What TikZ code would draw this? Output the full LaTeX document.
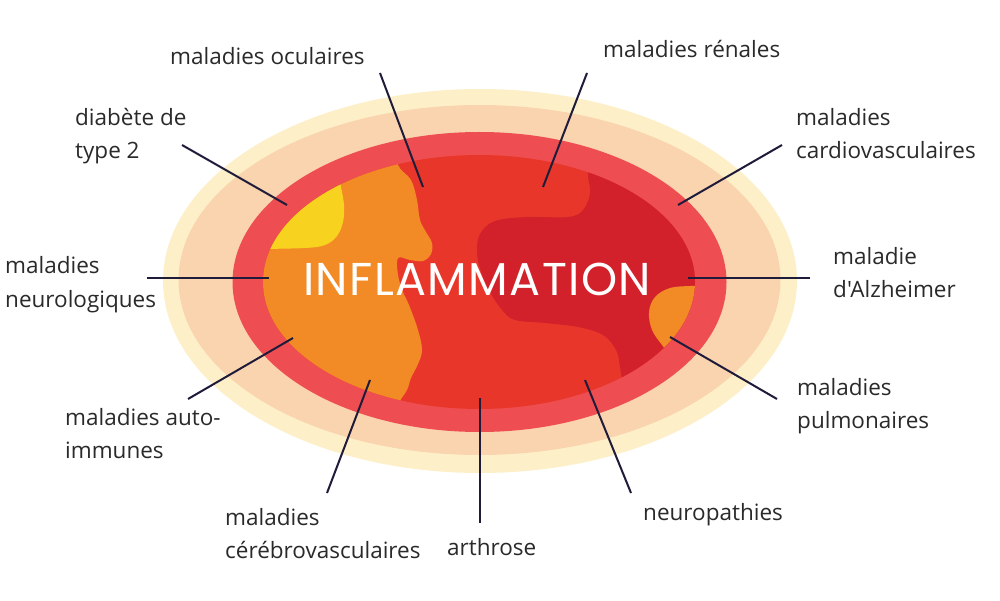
\documentclass[tikz,border=0pt]{standalone}
\usepackage{fontspec}
\newfontfamily\labfont{Open Sans}
\newfontfamily\titlefont{Poppins}[LetterSpace=3]
\definecolor{paleY}{HTML}{FDF0C9}
\definecolor{peach}{HTML}{FAD4AE}
\definecolor{ring}{HTML}{EE4E52}
\definecolor{innerR}{HTML}{E8372A}
\definecolor{darkR}{HTML}{D2212A}
\definecolor{orng}{HTML}{F28B26}
\definecolor{yell}{HTML}{F7D21F}
\definecolor{navy}{HTML}{1E1C3A}
\definecolor{txt}{HTML}{2A2A2A}
\begin{document}
\begin{tikzpicture}[x=1pt,y=-1pt,
  lab/.style={font=\labfont\fontsize{22.5}{33}\selectfont, text=txt, anchor=base west, inner sep=0pt},
  conn/.style={draw=navy, line width=2pt}]
\useasboundingbox (0,0) rectangle (1000,601);
\fill[white] (0,0) rectangle (1000,601);
% rings
\fill[paleY] (480,281) ellipse [x radius=317pt, y radius=192pt];
\fill[peach] (479.5,280) ellipse [x radius=301pt, y radius=175pt];
\fill[ring] (479.5,282) ellipse [x radius=247pt, y radius=150pt];
\begin{scope}
  \clip (479,282) ellipse [x radius=216pt, y radius=127pt];
  \fill[innerR] (250,140) rectangle (710,425);
  \fill[darkR] plot[smooth,tension=0.6] coordinates {(588,145) (588,175) (590,193) (583,210) (568,217) (527,217) (495,221) (480,234) (477,252) (481,272) (490,292) (502,310) (515,320) (545,323) (578,327) (603,335) (616,350) (620,367) (625,400)} -- (720,425) -- (720,140) -- cycle;
  \fill[orng] plot[smooth,tension=0.6] coordinates {(396,140) (398,165) (411,180) (417,200) (420,220) (426,232) (432,243) (431,254) (423,261) (410,260) (398,258) (398,275) (403,292) (409,305) (418,330) (422,350) (418,364) (411,378) (407,390) (398,405) (396,425)} -- (250,425) -- (250,140) -- cycle;
  \fill[yell] plot[smooth,tension=0.6] coordinates {(337,165) (341,187) (344,205) (343,222) (337,236) (325,245) (305,248) (260,249)} -- (250,249) -- (250,165) -- cycle;
  \fill[orng] plot[smooth,tension=0.6] coordinates {(705,286) (690,286) (670,288) (655,297) (649,312) (652,330) (662,345) (672,358)} -- (710,370) -- (710,286) -- cycle;
\end{scope}
\node[font=\titlefont\fontsize{46}{46}\selectfont, text=white, inner sep=0pt] (title) at (477,279) {INFLAMMATION};
% connector ends
\coordinate (oc1) at (380,73);  \coordinate (oc2) at (423,187);
\coordinate (rn1) at (587,73);  \coordinate (rn2) at (543,187);
\coordinate (di1) at (182,145); \coordinate (di2) at (287,205);
\coordinate (cv1) at (782,145); \coordinate (cv2) at (678,205);
\coordinate (ne1) at (147,278); \coordinate (ne2) at (269,278);
\coordinate (al1) at (810,278); \coordinate (al2) at (688,278);
\coordinate (au1) at (188,399); \coordinate (au2) at (293,338);
\coordinate (pu1) at (777,399); \coordinate (pu2) at (670,337);
\coordinate (ce1) at (327,493); \coordinate (ce2) at (370,380);
\coordinate (ar1) at (480,523); \coordinate (ar2) at (480,398);
\coordinate (np1) at (631,493); \coordinate (np2) at (585,380);
\foreach \p in {oc,rn,di,cv,ne,al,au,pu,ce,ar,np} {\draw[conn] (\p1) -- (\p2);}
% labels
\node[lab] (ocl) at (170,65) {maladies oculaires};
\node[lab] (rnl) at (603,58) {maladies rénales};
\node[lab] (dil1) at (75,126) {diabète de};
\node[lab] (dil2) at (75,159) {type 2};
\node[lab] (cvl1) at (796,126) {maladies};
\node[lab] (cvl2) at (796,159) {cardiovasculaires};
\node[lab] (nel1) at (5,274) {maladies};
\node[lab] (nel2) at (5,307) {neurologiques};
\node[lab] (all1) at (833,265) {maladie};
\node[lab] (all2) at (833,298) {d'Alzheimer};
\node[lab] (aul1) at (65,425) {maladies auto-};
\node[lab] (aul2) at (65,458) {immunes};
\node[lab] (pul1) at (797,395) {maladies};
\node[lab] (pul2) at (797,428) {pulmonaires};
\node[lab] (cel1) at (225,525) {maladies};
\node[lab] (cel2) at (225,558) {cérébrovasculaires};
\node[lab] (arl) at (447,555) {arthrose};
\node[lab] (npl) at (643,520) {neuropathies};
\end{tikzpicture}
\end{document}
